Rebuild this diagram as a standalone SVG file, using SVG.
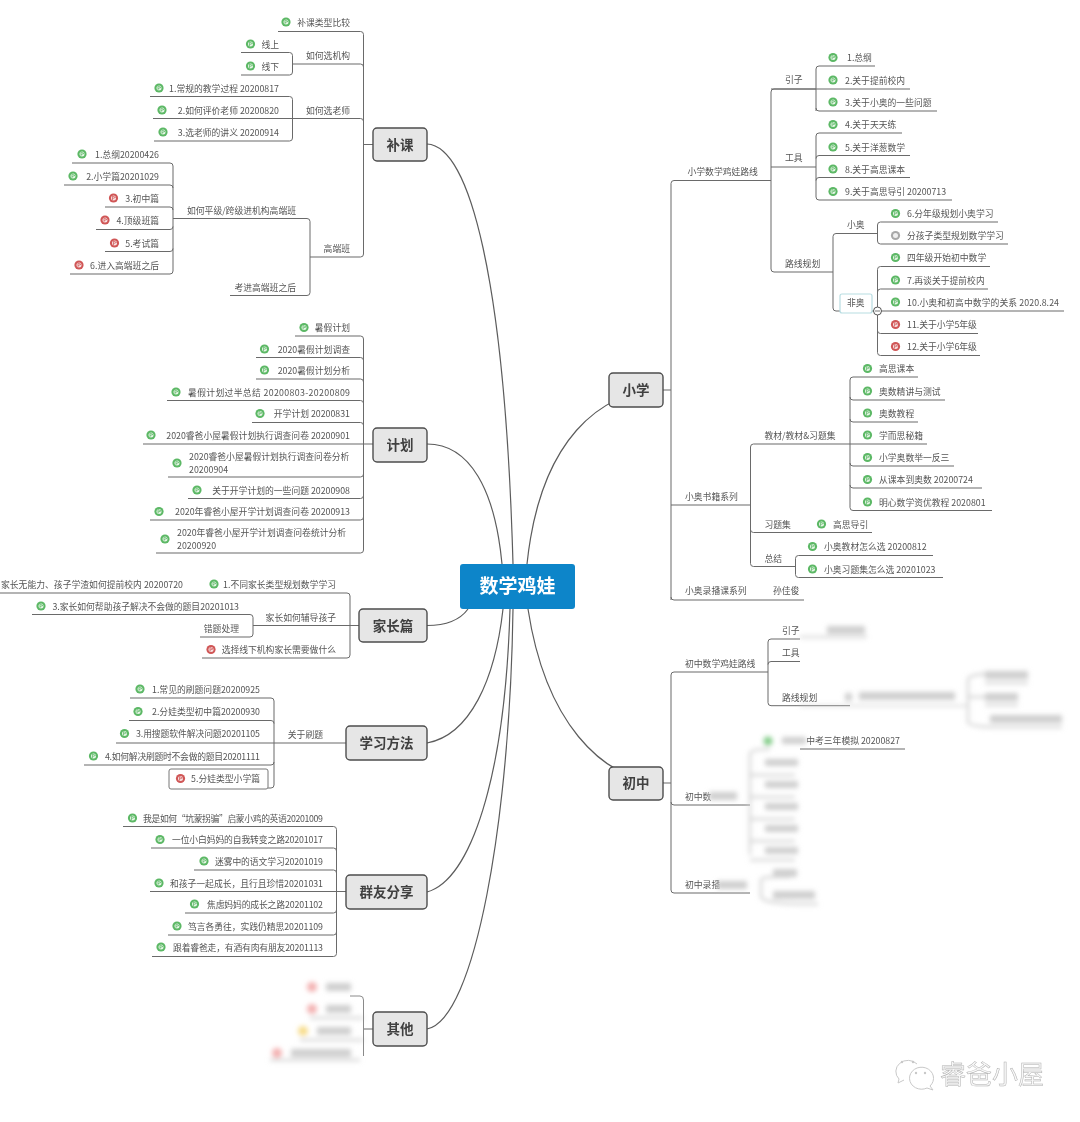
<svg xmlns="http://www.w3.org/2000/svg" width="1080" height="1122" viewBox="0 0 1080 1122">
<defs>
<style>
text{font-family:"Noto Sans CJK SC","Noto Sans",sans-serif;font-size:8.8px;fill:#555}
.e{text-anchor:end}
.n rect{fill:#e6e6e6;stroke:#4d4d4d;stroke-width:1.4}
.n text{font-size:13.5px;font-weight:700;fill:#404040;text-anchor:middle}
#connectors path{fill:none;stroke:#6b6b6b;stroke-width:1}
#connectors .c{stroke:#5c5c5c;stroke-width:1.2}
.bk rect{fill:#cfcfcf}
.bk path{fill:none;stroke:#d4d4d4;stroke-width:2.5}
</style>
<filter id="soft" filterUnits="userSpaceOnUse" x="0" y="0" width="1080" height="1122"><feGaussianBlur stdDeviation="0.38"/></filter>
<filter id="blur" filterUnits="userSpaceOnUse" x="0" y="0" width="1080" height="1122"><feGaussianBlur stdDeviation="2.5"/></filter>
<g id="ig"><circle r="4.6" fill="#5cb865"/><circle r="2.5" fill="#e6f5e6"/><path d="M-1 -2V2M-1 -2L2 -.6L-1 .6" fill="none" stroke="#5cb865" stroke-width=".7"/></g>
<g id="ir"><circle r="4.6" fill="#d05656"/><circle r="2.5" fill="#f7e3e3"/><path d="M-1 -2V2M-1 -2L2 -.6L-1 .6" fill="none" stroke="#d05656" stroke-width=".7"/></g>
<g id="iy"><circle r="4.6" fill="#a8a8a8"/><circle r="2.5" fill="#efefef"/></g>
</defs>
<rect width="1080" height="1122" fill="#fff"/>
<g filter="url(#soft)">
<g id="connectors">
<path class="c" d="M427 144C470 146 505 280 513 564"/>
<path class="c" d="M427 444C470 444 495 490 502 564"/>
<path class="c" d="M664 390C600 390 540 440 527 564"/>
<path class="c" d="M427 625.500C445 625.500 460 620 468 609"/>
<path class="c" d="M427 743C470 735 495 680 503 609"/>
<path class="c" d="M427 892C470 880 505 780 510 609"/>
<path class="c" d="M427 1029C475 1020 510 820 513 609"/>
<path class="c" d="M664 783C600 780 545 720 528 609"/>
<path d="M364 144.500H373M278 31.500H360.500Q363.500 31.500 363.500 34.500V254Q363.500 257 360.500 257H310M292.500 64H360.500Q363.500 64 363.500 67M153 118.500H360.500Q363.500 118.500 363.500 121.500"/>
<path d="M241 52.500H289.500Q292.500 52.500 292.500 55.500V72Q292.500 75 289.500 75H241"/>
<path d="M150 96.500H289.500Q292.500 96.500 292.500 99.500V138Q292.500 141 289.500 141H154"/>
<path d="M230 295.500H307Q310 295.500 310 292.500V221.500Q310 218.500 307 218.500H173"/>
<path d="M72 163H170Q173 163 173 166V271Q173 274 170 274H70M64 185H170Q173 185 173 188M105 207H170Q173 207 173 210M96 229.500H170Q173 229.500 173 226.500M105 251.500H170Q173 251.500 173 248.500"/>
<path d="M295 336H360.500Q363.500 336 363.500 339V550Q363.500 553 360.500 553H156M256 357.500H360.500Q363.500 357.500 363.500 360.500M256 379H360.500Q363.500 379 363.500 382M167 400.500H360.500Q363.500 400.500 363.500 403.500M252 422.500H360.500Q363.500 422.500 363.500 425.500M143 444H373M168 477H360.500Q363.500 477 363.500 474M188 498.500H360.500Q363.500 498.500 363.500 495.500M150 520H360.500Q363.500 520 363.500 517"/>
<path d="M0 593H347Q350 593 350 596V655Q350 658 347 658H202M253 625.500H359"/>
<path d="M32 614.500H250Q253 614.500 253 617.500V634Q253 637 250 637H200"/>
<path d="M130 698H271Q274 698 274 701V785Q274 788 271 788H268M129 720.500H271Q274 720.500 274 723.500M116 743H346M84 765H271Q274 765 274 762"/>
<path d="M123 826.500H333.500Q336.500 826.500 336.500 829.500V953.500Q336.500 956.500 333.500 956.500H152M151 848H333.500Q336.500 848 336.500 851M194 870H333.500Q336.500 870 336.500 873M150 891.500H346M185 913H333.500Q336.500 913 336.500 910M168 935H333.500Q336.500 935 336.500 932"/>
<path d="M664 390H671M774 89H816M671 600V183.500Q671 180.500 674 180.500H771M671 505H750.500M671 597Q671 600 674 600H804"/>
<path d="M819 66H875M816 111V69Q816 66 819 66M816 108Q816 111 819 111H937M771 89H910"/>
<path d="M771 92Q771 89 774 89M771 269V92M771 269Q771 272 774 272H833M771 167H816"/>
<path d="M902 133H819Q816 133 816 136V197Q816 200 819 200H952M910 155.500H819Q816 155.500 816 158.500M910 177.500H819Q816 177.500 816 180.500"/>
<path d="M833 236.500Q833 233.500 836 233.500H877.500M833 236.500V308Q833 311 836 311H877.500"/>
<path d="M998 222H880.500Q877.500 222 877.500 225V241Q877.500 244 880.500 244H1008"/>
<path d="M990 266.500H880.500Q877.500 266.500 877.500 269.500V352.500Q877.500 355.500 880.500 355.500H980M988 289H880.500Q877.500 289 877.500 292M1064 311H877.500M978 333.500H880.500Q877.500 333.500 877.500 330.500"/>
<path d="M750.500 447Q750.500 444 753.500 444H927M750.500 447V563.500Q750.500 566.500 753.500 566.500H795.500M750.500 529.500Q750.500 532.500 753.500 532.500H872"/>
<path d="M918 377H853Q850 377 850 380V507.500Q850 510.500 853 510.500H992M945 400H853Q850 400 850 397M918 422H853Q850 422 850 419M954 466H853Q850 466 850 463M982 488H853Q850 488 850 485"/>
<path d="M933 555.500H798.500Q795.500 555.500 795.500 558.500V574.500Q795.500 577.500 798.500 577.500H943"/>
<path d="M664 783H671M671 675Q671 672 674 672H768M671 675V890Q671 893 674 893H750M671 802Q671 805 674 805H750"/>
<path d="M771 639Q768 639 768 642V702.700Q768 705.700 771 705.700H850M771 661.500Q768 661.500 768 664.500M800 639H771M800 661.500H771"/>
<path d="M800 749H905"/>
<path d="M363.500 1029H373"/>
</g>
<g id="central"><rect x="460" y="564" width="115" height="45" rx="3" fill="#0f85c9"/><text x="517.500" y="593" style="font-size:19px;font-weight:700;fill:#fff;text-anchor:middle">数学鸡娃</text></g>
<g id="n-buke" class="n"><rect x="373" y="128" width="54" height="33" rx="4"/><text x="400" y="149.500">补课</text></g>
<g id="n-jihua" class="n"><rect x="373" y="428" width="54" height="34" rx="4"/><text x="400" y="449.500">计划</text></g>
<g id="n-jiazhang" class="n"><rect x="359" y="609" width="68" height="33" rx="4"/><text x="393" y="630.500">家长篇</text></g>
<g id="n-xuexi" class="n"><rect x="346" y="726" width="81" height="34" rx="4"/><text x="386.500" y="747.500">学习方法</text></g>
<g id="n-qunyou" class="n"><rect x="346" y="875" width="81" height="34" rx="4"/><text x="386.500" y="896.500">群友分享</text></g>
<g id="n-qita" class="n"><rect x="373" y="1012" width="54" height="34" rx="4"/><text x="400" y="1033.500">其他</text></g>
<g id="n-xiaoxue" class="n"><rect x="609" y="373" width="54" height="34" rx="4"/><text x="636" y="394.500">小学</text></g>
<g id="n-chuzhong" class="n"><rect x="609" y="767" width="54" height="33" rx="4"/><text x="636" y="788">初中</text></g>

<g id="a1"><use href="#ig" x="286" y="22"/><text class="e" x="350" y="25.500">补课类型比较</text></g>
<g id="a2"><text class="e" x="350" y="58.500">如何选机构</text></g>
<g id="a3"><use href="#ig" x="250.500" y="44"/><text class="e" x="279" y="47.500">线上</text></g>
<g id="a4"><use href="#ig" x="250.500" y="66"/><text class="e" x="279" y="69.500">线下</text></g>
<g id="a5"><text class="e" x="350" y="113.500">如何选老师</text></g>
<g id="a6"><use href="#ig" x="159" y="88"/><text class="e" x="279" y="91.500">1.常规的教学过程 20200817</text></g>
<g id="a7"><use href="#ig" x="162" y="110"/><text class="e" x="279" y="113.500">2.如何评价老师 20200820</text></g>
<g id="a8"><use href="#ig" x="163" y="132"/><text class="e" x="279" y="135.500">3.选老师的讲义 20200914</text></g>
<g id="a9"><text class="e" x="350" y="251.500">高端班</text></g>
<g id="a10"><text class="e" x="296" y="213.500">如何平级/跨级进机构高端班</text></g>
<g id="a11"><text class="e" x="296" y="290.500">考进高端班之后</text></g>
<g id="a12"><use href="#ig" x="82" y="154"/><text class="e" x="159" y="157.500">1.总纲20200426</text></g>
<g id="a13"><use href="#ig" x="73" y="176"/><text class="e" x="159" y="179.500">2.小学篇20201029</text></g>
<g id="a14"><use href="#ir" x="113.500" y="198"/><text class="e" x="159" y="201.500">3.初中篇</text></g>
<g id="a15"><use href="#ir" x="105" y="220"/><text class="e" x="159" y="223.500">4.顶级班篇</text></g>
<g id="a16"><use href="#ir" x="114.500" y="243"/><text class="e" x="159" y="246.500">5.考试篇</text></g>
<g id="a17"><use href="#ir" x="79" y="265"/><text class="e" x="159" y="268.500">6.进入高端班之后</text></g>

<g id="b1"><use href="#ig" x="304" y="327.500"/><text class="e" x="350" y="331">暑假计划</text></g>
<g id="b2"><use href="#ig" x="264.500" y="349"/><text class="e" x="350" y="352.500">2020暑假计划调查</text></g>
<g id="b3"><use href="#ig" x="264.500" y="370"/><text class="e" x="350" y="373.500">2020暑假计划分析</text></g>
<g id="b4"><use href="#ig" x="176" y="392"/><text class="e" x="350" y="395.500" textLength="162">暑假计划过半总结 20200803-20200809</text></g>
<g id="b5"><use href="#ig" x="260" y="413.500"/><text class="e" x="350" y="417">开学计划 20200831</text></g>
<g id="b6"><use href="#ig" x="151" y="435"/><text class="e" x="350" y="438.500">2020睿爸小屋暑假计划执行调查问卷 20200901</text></g>
<g id="b7"><use href="#ig" x="177" y="463"/><text x="189" y="459.500">2020睿爸小屋暑假计划执行调查问卷分析</text><text x="189" y="472.500">20200904</text></g>
<g id="b8"><use href="#ig" x="197" y="490"/><text class="e" x="350" y="493.500">关于开学计划的一些问题 20200908</text></g>
<g id="b9"><use href="#ig" x="159" y="511.500"/><text class="e" x="350" y="515">2020年睿爸小屋开学计划调查问卷 20200913</text></g>
<g id="b10"><use href="#ig" x="165" y="539"/><text x="177" y="535.500">2020年睿爸小屋开学计划调查问卷统计分析</text><text x="177" y="548.500">20200920</text></g>

<g id="c1"><use href="#ig" x="214" y="584"/><text class="e" x="336" y="587.500">1.不同家长类型规划数学学习</text></g>
<g id="c2"><text class="e" x="183" y="587.500" textLength="182">家长无能力、孩子学渣如何提前校内 20200720</text></g>
<g id="c3"><use href="#ig" x="41" y="606"/><text class="e" x="239" y="609.500" textLength="186.500">3.家长如何帮助孩子解决不会做的题目20201013</text></g>
<g id="c4"><text class="e" x="336" y="620.500">家长如何辅导孩子</text></g>
<g id="c5"><text class="e" x="239" y="631.500">错题处理</text></g>
<g id="c6"><use href="#ir" x="211" y="649.500"/><text class="e" x="336" y="653">选择线下机构家长需要做什么</text></g>

<g id="d1"><use href="#ig" x="140" y="689"/><text class="e" x="260" y="692.500">1.常见的刷题问题20200925</text></g>
<g id="d2"><use href="#ig" x="138" y="711.500"/><text class="e" x="260" y="715">2.分娃类型初中篇20200930</text></g>
<g id="d3"><use href="#ig" x="124.500" y="733.500"/><text class="e" x="260" y="737" textLength="124">3.用搜题软件解决问题20201105</text></g>
<g id="d4"><use href="#ig" x="93.500" y="756"/><text class="e" x="260" y="759.500" textLength="155">4.如何解决刷题时不会做的题目20201111</text></g>
<g id="d5"><rect x="169" y="769" width="99" height="20" rx="2" fill="none" stroke="#777"/><use href="#ir" x="180.500" y="778.500"/><text class="e" x="260" y="782">5.分娃类型小学篇</text></g>
<g id="d6"><text class="e" x="323" y="737.500">关于刷题</text></g>

<g id="e1"><use href="#ig" x="132.500" y="818"/><text class="e" x="323" y="821.500" textLength="180">我是如何“坑蒙拐骗”启蒙小鸡的英语20201009</text></g>
<g id="e2"><use href="#ig" x="160" y="839.500"/><text class="e" x="323" y="843" textLength="151">一位小白妈妈的自我转变之路20201017</text></g>
<g id="e3"><use href="#ig" x="204" y="861"/><text class="e" x="323" y="864.500" textLength="108">迷雾中的语文学习20201019</text></g>
<g id="e4"><use href="#ig" x="159" y="883"/><text class="e" x="323" y="886.500" textLength="153">和孩子一起成长，且行且珍惜20201031</text></g>
<g id="e5"><use href="#ig" x="194.500" y="904"/><text class="e" x="323" y="907.500" textLength="116">焦虑妈妈的成长之路20201102</text></g>
<g id="e6"><use href="#ig" x="177" y="926"/><text class="e" x="323" y="929.500" textLength="135">笃言各勇往，实践仍精思20201109</text></g>
<g id="e7"><use href="#ig" x="161" y="947"/><text class="e" x="323" y="950.500" textLength="150">跟着睿爸走，有酒有肉有朋友20201113</text></g>

<g id="f1"><text x="687.500" y="174.500">小学数学鸡娃路线</text></g>
<g id="f2"><text x="785" y="83">引子</text></g>
<g id="f3"><use href="#ig" x="833" y="57.500"/><text x="847" y="61">1.总纲</text></g>
<g id="f4"><use href="#ig" x="833" y="80"/><text x="845" y="83.500">2.关于提前校内</text></g>
<g id="f5"><use href="#ig" x="833" y="102"/><text x="845" y="105.500">3.关于小奥的一些问题</text></g>
<g id="f6"><text x="785" y="161">工具</text></g>
<g id="f7"><use href="#ig" x="833" y="124.500"/><text x="845" y="128">4.关于天天练</text></g>
<g id="f8"><use href="#ig" x="833" y="147"/><text x="845" y="150.500">5.关于洋葱数学</text></g>
<g id="f9"><use href="#ig" x="833" y="169"/><text x="845" y="172.500">8.关于高思课本</text></g>
<g id="f10"><use href="#ig" x="833" y="191.500"/><text x="845" y="195">9.关于高思导引 20200713</text></g>
<g id="f11"><text x="785" y="266.500">路线规划</text></g>
<g id="f12"><text x="847" y="228">小奥</text></g>
<g id="f13"><use href="#ig" x="895.500" y="213.500"/><text x="907" y="217">6.分年级规划小奥学习</text></g>
<g id="f14"><use href="#iy" x="895.500" y="235.500"/><text x="907" y="239">分孩子类型规划数学学习</text></g>
<g id="f15"><rect x="840" y="294" width="32" height="19" rx="2" fill="#fff" stroke="#b8dde2" stroke-width="1.200"/><text x="847" y="305.500">非奥</text><circle cx="877.500" cy="311" r="4" fill="#fff" stroke="#555"/><path d="M875 311H880" stroke="#555" stroke-width=".8"/></g>
<g id="f16"><use href="#ig" x="895.500" y="257.500"/><text x="907" y="261">四年级开始初中数学</text></g>
<g id="f17"><use href="#ig" x="895.500" y="280"/><text x="907" y="283.500">7.再谈关于提前校内</text></g>
<g id="f18"><use href="#ig" x="895.500" y="302"/><text x="907" y="305.500" textLength="152">10.小奥和初高中数学的关系 2020.8.24</text></g>
<g id="f19"><use href="#ir" x="895.500" y="324.500"/><text x="907" y="328">11.关于小学5年级</text></g>
<g id="f20"><use href="#ir" x="895.500" y="346.500"/><text x="907" y="350">12.关于小学6年级</text></g>

<g id="g1"><text x="685" y="499.500">小奥书籍系列</text></g>
<g id="g2"><text x="764.500" y="438.500">教材/教材&amp;习题集</text></g>
<g id="g3"><use href="#ig" x="867.500" y="368.500"/><text x="879" y="372">高思课本</text></g>
<g id="g4"><use href="#ig" x="867.500" y="391"/><text x="879" y="394.500">奥数精讲与测试</text></g>
<g id="g5"><use href="#ig" x="867.500" y="413"/><text x="879" y="416.500">奥数教程</text></g>
<g id="g6"><use href="#ig" x="867.500" y="435"/><text x="879" y="438.500">学而思秘籍</text></g>
<g id="g7"><use href="#ig" x="867.500" y="457.500"/><text x="879" y="461">小学奥数举一反三</text></g>
<g id="g8"><use href="#ig" x="867.500" y="479.500"/><text x="879" y="483">从课本到奥数 20200724</text></g>
<g id="g9"><use href="#ig" x="867.500" y="502"/><text x="879" y="505.500">明心数学资优教程 2020801</text></g>
<g id="g10"><text x="764.500" y="527.500">习题集</text></g>
<g id="g11"><use href="#ig" x="821.500" y="524"/><text x="833" y="527.500">高思导引</text></g>
<g id="g12"><text x="764.500" y="561.500">总结</text></g>
<g id="g13"><use href="#ig" x="812.500" y="546.500"/><text x="824" y="550">小奥教材怎么选 20200812</text></g>
<g id="g14"><use href="#ig" x="812.500" y="569"/><text x="824" y="572.500">小奥习题集怎么选 20201023</text></g>
<g id="g15"><text x="685" y="593.500">小奥录播课系列</text></g>
<g id="g16"><text x="773" y="593.500">孙佳俊</text></g>

<g id="h1"><text x="685" y="667">初中数学鸡娃路线</text></g>
<g id="h2"><text x="782" y="633.500">引子</text></g>
<g id="h3"><text x="782" y="655.500">工具</text></g>
<g id="h4"><text x="782" y="700.500">路线规划</text></g>
<g id="h5"><text x="685" y="800">初中数</text></g>
<g id="h6"><text x="685" y="887.500">初中录播</text></g>
<g id="h7"><text class="e" x="900" y="743.500">中考三年模拟 20200827</text></g>
</g>

<g id="blurred" class="bk" filter="url(#blur)">
<circle cx="768" cy="741" r="4.500" fill="#7fcb85"/>
<rect x="782" y="737" width="24" height="7"/>
<rect x="800" y="636" width="67" height="2"/>
<rect x="827" y="626" width="38" height="8"/>
<rect x="800" y="705" width="168" height="1.500"/>
<rect x="845" y="693" width="7" height="8"/>
<rect x="859" y="692" width="96" height="8"/>
<path d="M968 680V722M968 680Q968 675 985 674M968 697H985M968 722Q968 726 990 727M985 683H1028M985 705H1018M990 727H1062"/>
<rect x="985" y="671" width="43" height="8"/>
<rect x="985" y="693" width="33" height="8"/>
<rect x="990" y="715" width="72" height="8"/>
<path d="M750 754V855M750 754Q750 749 770 749M750 775H795M750 797H795M750 819H795M750 841H795M750 860H795"/>
<rect x="765" y="759" width="33" height="7"/>
<rect x="765" y="781" width="33" height="7"/>
<rect x="765" y="803" width="33" height="7"/>
<rect x="765" y="825" width="33" height="7"/>
<rect x="765" y="847" width="33" height="7"/>
<rect x="709" y="792" width="28" height="8"/>
<rect x="717" y="881" width="30" height="8"/>
<path d="M761 880V896M761 880Q761 876 790 877M761 896Q761 905 818 904"/>
<rect x="773" y="869" width="24" height="8"/>
<rect x="773" y="891" width="42" height="8"/>
<circle cx="312" cy="987" r="5" fill="#f3b0b0"/>
<circle cx="312" cy="1009" r="5" fill="#f3b0b0"/>
<circle cx="303" cy="1031" r="5" fill="#f7dc8a"/>
<circle cx="277" cy="1053" r="5" fill="#f3b0b0"/>
<rect x="326" y="983" width="25" height="8"/>
<rect x="326" y="1005" width="25" height="8"/>
<rect x="317" y="1027" width="34" height="8"/>
<rect x="291" y="1049" width="60" height="8"/>
<path d="M310 1018H363.500M300 1040H363.500M270 1060H360"/>
</g>
<g id="qita-bracket" fill="none" stroke="#8a8a8a" stroke-width="1" filter="url(#soft)"><path d="M350 996H360Q363.500 996 363.500 1000V1056"/></g>

<g id="watermark" fill="none" stroke="#c8c8c8" stroke-width="1">
<path d="M917 1064A12 11 0 1 0 899 1079L898 1083L904 1080"/>
<path d="M930 1086L933 1090L927 1088A12 11 0 1 1 930 1086Z"/>
<circle cx="902" cy="1062" r="1.200" fill="#c8c8c8" stroke="none"/><circle cx="913" cy="1062" r="1.200" fill="#c8c8c8" stroke="none"/>
<circle cx="916" cy="1073" r="1.200" fill="#c8c8c8" stroke="none"/><circle cx="925" cy="1073" r="1.200" fill="#c8c8c8" stroke="none"/>
<text x="940" y="1084" style="font-size:26px;fill:#f8f8f8;stroke:#b0b0b0;stroke-width:.5">睿爸小屋</text>
</g>
</svg>
